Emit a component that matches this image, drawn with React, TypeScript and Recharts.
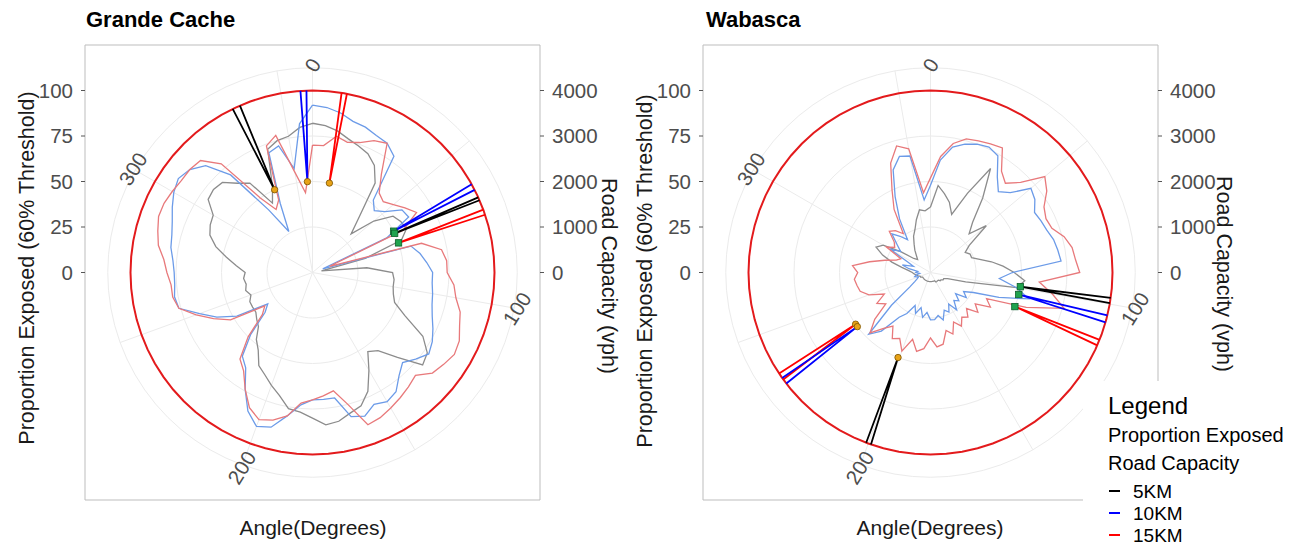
import React from "react";
import { ScatterChart, Scatter, XAxis, YAxis, ReferenceArea } from "recharts";

const FONT = '"Liberation Sans", Arial, Helvetica, sans-serif';

// direction of each exposure sample, degrees clockwise from north
const angles = [
  0, 5, 10, 15, 20, 25, 30, 35, 40, 45, 50, 55, 60, 65, 70, 75, 80, 85,
  90, 95, 100, 105, 110, 115, 120, 125, 130, 135, 140, 145, 150, 155, 160, 165, 170, 175,
  180, 185, 190, 195, 200, 205, 210, 215, 220, 225, 230, 235, 240, 245, 250, 255, 260, 265,
  270, 275, 280, 285, 290, 295, 300, 305, 310, 315, 320, 325, 330, 335, 340, 345, 350, 355,
];

// proportion exposed (%) — Grande Cache
const grandeExposed5 = [
  82, 81, 79, 76, 74, 72, 68, 60, 40, 30, 44, 54, 56, 57, 52, 30, 5, 30,
  44, 45, 45, 46, 48, 56, 70, 77, 79, 66, 56, 53, 62, 72, 78, 80, 83, 84,
  80, 77, 76, 70, 66, 62, 59, 52, 48, 42, 40, 38, 38, 38, 36, 38, 37, 38,
  37, 42, 48, 55, 60, 62, 63, 70, 71, 70, 64, 60, 44, 52, 72, 75, 76, 80,
];
const grandeExposed10 = [
  92, 91, 89, 86, 85, 83, 82, 78, 52, 48, 52, 60, 61, 45, 6, 56, 60, 63,
  66, 66, 67, 68, 70, 73, 76, 78, 74, 70, 74, 80, 82, 80, 84, 82, 70, 70,
  70, 73, 80, 88, 90, 84, 74, 64, 60, 48, 34, 30, 48, 58, 66, 76, 77, 76,
  76, 77, 79, 80, 82, 85, 88, 90, 88, 83, 70, 42, 26, 42, 70, 72, 58, 82,
];
const grandeExposed15 = [
  70, 70, 76, 74, 76, 80, 82, 66, 57, 55, 58, 62, 66, 55, 10, 62, 72, 74,
  74, 78, 80, 84, 86, 89, 90, 88, 86, 80, 82, 84, 86, 88, 89, 75, 66, 68,
  70, 72, 80, 84, 86, 82, 74, 66, 62, 50, 36, 32, 52, 60, 68, 76, 78, 78,
  80, 82, 86, 88, 90, 90, 89, 88, 88, 87, 78, 50, 40, 44, 74, 78, 56, 44,
];

// proportion exposed (%) — Wabasca
const wabascaExposed5 = [
  36, 48, 44, 40, 34, 48, 66, 50, 36, 30, 40, 26, 22, 24, 24, 28, 34, 40,
  46, 52, 48, 20, 10, 8, 8, 7, 7, 6, 6, 6, 6, 5, 5, 5, 5, 5,
  5, 5, 5, 5, 5, 5, 5, 5, 5, 5, 5, 5, 5, 6, 6, 7, 8, 9,
  10, 12, 16, 22, 28, 33, 30, 20, 12, 10, 12, 15, 18, 22, 25, 30, 35, 34,
];
const wabascaExposed10 = [
  48, 62, 70, 73, 75, 76, 74, 64, 58, 62, 72, 70, 66, 67, 68, 70, 71, 72,
  45, 38, 48, 56, 40, 26, 21, 24, 18, 22, 20, 25, 20, 24, 22, 27, 24, 26,
  26, 22, 25, 20, 24, 20, 26, 30, 42, 48, 28, 14, 10, 8, 7, 9, 8, 6,
  8, 7, 12, 16, 10, 14, 26, 20, 24, 30, 26, 22, 34, 46, 60, 66, 65, 40,
];
const wabascaExposed15 = [
  52, 64, 72, 76, 77, 78, 79, 68, 64, 70, 82, 78, 72, 70, 71, 76, 79, 80,
  82, 60, 68, 76, 56, 34, 38, 30, 34, 28, 32, 30, 34, 30, 36, 33, 40, 41,
  36, 42, 44, 38, 46, 40, 42, 36, 40, 47, 40, 30, 34, 28, 36, 40, 41, 42,
  40, 43, 34, 26, 20, 18, 28, 24, 26, 32, 30, 26, 40, 50, 64, 72, 69, 44,
];

// road capacity segments: start point (angle, vph) fanning out to the 4000 vph circle
const grandeRoadKm = ["5KM", "10KM", "15KM", "10KM", "5KM", "15KM"];
const grandeRoadAngle = [335.4, 356.8, 10.7, 63, 64.5, 71];
const grandeRoadEndA = [334, 356.2, 9.2, 61, 65.6, 69.8];
const grandeRoadEndB = [336.5, 358.1, 10.9, 63, 66.6, 71.5];
const grandeRoadVph = [2000, 2000, 2000, 2000, 2000, 2000];
const grandeRoadMark = ["circle", "circle", "circle", "square", "square", "square"];

const wabascaRoadKm = ["5KM", "10KM", "15KM", "15KM", "10KM", "5KM"];
const wabascaRoadAngle = [99, 104, 112, 235.4, 233.5, 200.9];
const wabascaRoadEndA = [98, 103.6, 111.7, 236.3, 234.6, 200.7];
const wabascaRoadEndB = [99.7, 105.9, 113.6, 234, 232.4, 199.1];
const wabascaRoadVph = [2000, 2000, 2000, 2000, 2000, 2000];
const wabascaRoadMark = ["square", "square", "square", "circle", "circle", "circle"];

const propTicks = [0, 25, 50, 75, 100];
const capTicks = [0, 1000, 2000, 3000, 4000];
const angleLabels = [0, 100, 200, 300];
const spokeAngles = [0, 50, 100, 150, 200, 250, 300, 350];
const gridRings = [25, 50, 75, 112.5];
const legendKm = ["5KM", "10KM", "15KM"];
const CAP_MAX = 4000;
const VPH_PER_PCT = 40;

const kmColor: Record<string, string> = { "5KM": "#000000", "10KM": "#0000FF", "15KM": "#FF0000" };

const toPoint = (angle: number, value: number) => ({
  x: value * Math.sin((angle * Math.PI) / 180),
  y: value * Math.cos((angle * Math.PI) / 180),
});

const loop = (values: number[]) => {
  const pts = angles.map((a, i) => toPoint(a, values[i]));
  return [...pts, pts[0]];
};

const Nothing = () => <g />;

const AngleLabel = (p: any) => (
  <text
    x={p.cx}
    y={p.cy}
    textAnchor="middle"
    dominantBaseline="central"
    transform={`rotate(-58 ${p.cx} ${p.cy})`}
    fontSize={20.5}
    fill="#4D4D4D"
    fontFamily={FONT}
  >
    {p.payload.label}
  </text>
);

const RoadMarker = (p: any) =>
  p.payload.mark === "circle" ? (
    <circle cx={p.cx} cy={p.cy} r={3.2} fill="#E8A317" stroke="#7A5200" strokeWidth={0.8} />
  ) : (
    <rect x={p.cx - 3.2} y={p.cy - 3.2} width={6.4} height={6.4} fill="#1FA34E" stroke="#0B5E2A" strokeWidth={0.8} />
  );

type PanelProps = {
  left: number;
  marginLeft: number;
  marginRight: number;
  exposed5: number[];
  exposed10: number[];
  exposed15: number[];
  roadKm: string[];
  roadAngle: number[];
  roadEndA: number[];
  roadEndB: number[];
  roadVph: number[];
  roadMark: string[];
};

function PolarPanel(props: PanelProps) {
  const { left, marginLeft, marginRight, exposed5, exposed10, exposed15 } = props;
  const tick = { fill: "#4D4D4D", fontSize: 20.5, fontFamily: FONT };

  const roads = props.roadKm.map((km, i) => ({
    km,
    pts: [
      toPoint(props.roadEndA[i], CAP_MAX / VPH_PER_PCT),
      toPoint(props.roadAngle[i], props.roadVph[i] / VPH_PER_PCT),
      toPoint(props.roadEndB[i], CAP_MAX / VPH_PER_PCT),
    ],
  }));
  const markers = props.roadKm.map((_, i) => ({
    ...toPoint(props.roadAngle[i], props.roadVph[i] / VPH_PER_PCT),
    mark: props.roadMark[i],
  }));
  const labels = angleLabels.map((a) => ({ ...toPoint(a, 114), label: String(a) }));

  return (
    <div style={{ position: "absolute", left, top: 0 }}>
      <ScatterChart
        width={620}
        height={548}
        margin={{ top: 45, right: marginRight, bottom: 48, left: marginLeft }}
      >
        <XAxis type="number" dataKey="x" domain={[-125, 125]} allowDataOverflow hide />
        <YAxis
          yAxisId="pct"
          type="number"
          dataKey="y"
          domain={[-125, 125]}
          allowDataOverflow
          ticks={propTicks}
          width={50}
          axisLine={false}
          tickSize={4}
          tickMargin={8}
          tickLine={{ stroke: "#555" }}
          tick={tick}
        />
        <YAxis
          yAxisId="cap"
          orientation="right"
          type="number"
          dataKey="y"
          domain={[-5000, 5000]}
          allowDataOverflow
          ticks={capTicks}
          width={70}
          axisLine={false}
          tickSize={4}
          tickMargin={8}
          tickLine={{ stroke: "#555" }}
          tick={tick}
        />
        <ReferenceArea yAxisId="pct" x1={-125} x2={125} y1={-125} y2={125} fill="none" stroke="#BDBDBD" strokeWidth={1} />
        <Scatter yAxisId="cap" data={[{ x: 0, y: 0 }]} shape={Nothing} isAnimationActive={false} />
        {gridRings.map((r) => (
          <Scatter
            key={`ring${r}`}
            yAxisId="pct"
            data={loop(angles.map(() => r))}
            line={{ stroke: "#EBEBEB", strokeWidth: 1 }}
            shape={Nothing}
            isAnimationActive={false}
          />
        ))}
        {spokeAngles.map((a) => (
          <Scatter
            key={`spoke${a}`}
            yAxisId="pct"
            data={[toPoint(a, 0), toPoint(a, 112.5)]}
            line={{ stroke: "#EBEBEB", strokeWidth: 1 }}
            shape={Nothing}
            isAnimationActive={false}
          />
        ))}
        <Scatter yAxisId="pct" data={labels} shape={AngleLabel} isAnimationActive={false} />
        <Scatter yAxisId="pct" data={loop(exposed5)} line={{ stroke: "#8C8C8C", strokeWidth: 1.3 }} shape={Nothing} isAnimationActive={false} />
        <Scatter yAxisId="pct" data={loop(exposed10)} line={{ stroke: "#6C9BE8", strokeWidth: 1.3 }} shape={Nothing} isAnimationActive={false} />
        <Scatter yAxisId="pct" data={loop(exposed15)} line={{ stroke: "#E8797B", strokeWidth: 1.3 }} shape={Nothing} isAnimationActive={false} />
        <Scatter
          yAxisId="pct"
          data={loop(angles.map(() => CAP_MAX / VPH_PER_PCT))}
          line={{ stroke: "#E31A1C", strokeWidth: 2 }}
          shape={Nothing}
          isAnimationActive={false}
        />
        {roads.map((r, i) => (
          <Scatter
            key={`road${i}`}
            yAxisId="pct"
            data={r.pts}
            line={{ stroke: kmColor[r.km], strokeWidth: 1.8 }}
            shape={Nothing}
            isAnimationActive={false}
          />
        ))}
        <Scatter yAxisId="pct" data={markers} shape={RoadMarker} isAnimationActive={false} />
      </ScatterChart>
    </div>
  );
}

export default function App() {
  return (
    <div style={{ position: "absolute", left: 0, top: 0, width: 1307, height: 548, background: "#fff", overflow: "hidden" }}>
      <PolarPanel
        left={0}
        marginLeft={35}
        marginRight={10}
        exposed5={grandeExposed5}
        exposed10={grandeExposed10}
        exposed15={grandeExposed15}
        roadKm={grandeRoadKm}
        roadAngle={grandeRoadAngle}
        roadEndA={grandeRoadEndA}
        roadEndB={grandeRoadEndB}
        roadVph={grandeRoadVph}
        roadMark={grandeRoadMark}
      />
      <PolarPanel
        left={620}
        marginLeft={33}
        marginRight={12}
        exposed5={wabascaExposed5}
        exposed10={wabascaExposed10}
        exposed15={wabascaExposed15}
        roadKm={wabascaRoadKm}
        roadAngle={wabascaRoadAngle}
        roadEndA={wabascaRoadEndA}
        roadEndB={wabascaRoadEndB}
        roadVph={wabascaRoadVph}
        roadMark={wabascaRoadMark}
      />
      <svg width={1307} height={548} style={{ position: "absolute", left: 0, top: 0, pointerEvents: "none" }} fontFamily={FONT}>
        <text x={86} y={27} fontSize={22} fontWeight="bold" fill="#000">Grande Cache</text>
        <text x={706} y={27} fontSize={22} fontWeight="bold" fill="#000">Wabasca</text>
        <text transform="translate(34,268) rotate(-90)" textAnchor="middle" fontSize={21.5} fill="#1A1A1A">
          Proportion Exposed (60% Threshold)
        </text>
        <text transform="translate(652,271) rotate(-90)" textAnchor="middle" fontSize={21.5} fill="#1A1A1A">
          Proportion Exposed (60% Threshold)
        </text>
        <text transform="translate(602,276) rotate(90)" textAnchor="middle" fontSize={21.5} fill="#1A1A1A">
          Road Capacity (vph)
        </text>
        <text transform="translate(1217,274) rotate(90)" textAnchor="middle" fontSize={21.5} fill="#1A1A1A">
          Road Capacity (vph)
        </text>
        <text x={313} y={535} textAnchor="middle" fontSize={21} fill="#1A1A1A">Angle(Degrees)</text>
        <text x={930} y={535} textAnchor="middle" fontSize={21} fill="#1A1A1A">Angle(Degrees)</text>
        <rect x={1083} y={381} width={224} height={167} fill="#fff" />
        <text x={1108} y={414} fontSize={24} fill="#000">Legend</text>
        <text x={1108} y={442} fontSize={20} fill="#000">Proportion Exposed</text>
        <text x={1108} y={470} fontSize={20} fill="#000">Road Capacity</text>
        {legendKm.map((km, i) => (
          <g key={km}>
            <line x1={1109} x2={1120} y1={491 + i * 22} y2={491 + i * 22} stroke={kmColor[km]} strokeWidth={2} />
            <text x={1133} y={498 + i * 22} fontSize={19} fill="#000">{km}</text>
          </g>
        ))}
      </svg>
    </div>
  );
}
